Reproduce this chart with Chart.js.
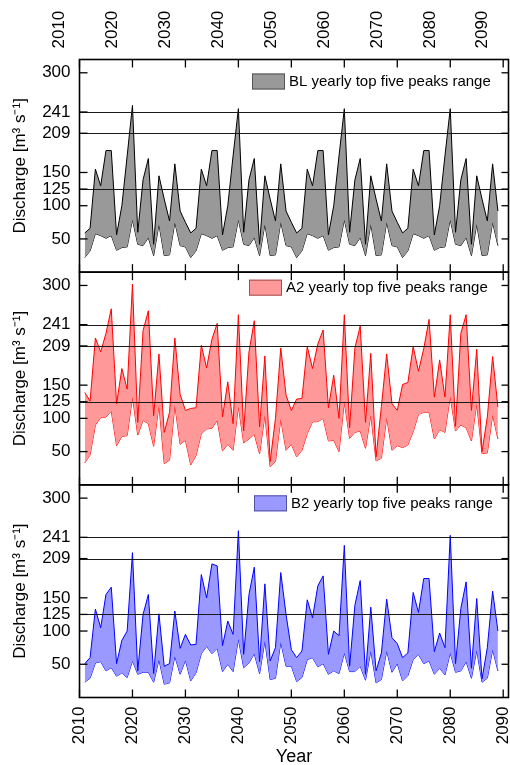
<!DOCTYPE html>
<html><head><meta charset="utf-8">
<script src="https://cdn.jsdelivr.net/npm/chart.js@4"></script>
<style>html,body{margin:0;padding:0;background:#fff;}#wrap{width:510px;height:765px;}</style>
</head><body><div id="wrap"><canvas id="c" width="510" height="765"></canvas></div>
<script>
const years = [2011,2012,2013,2014,2015,2016,2017,2018,2019,2020,2021,2022,2023,2024,2025,2026,2027,2028,2029,2030,
2031,2032,2033,2034,2035,2036,2037,2038,2039,2040,2041,2042,2043,2044,2045,2046,2047,2048,2049,2050,
2051,2052,2053,2054,2055,2056,2057,2058,2059,2060,2061,2062,2063,2064,2065,2066,2067,2068,2069,2070,
2071,2072,2073,2074,2075,2076,2077,2078,2079,2080,2081,2082,2083,2084,2085,2086,2087,2088,2089];
const xTickYears = [2010,2020,2030,2040,2050,2060,2070,2080,2090];
const yTickValues = [50,100,125,150,209,241,300];
const refLines = [125,209,241];

const blUpper = [59,66,155,130,183,183,56,100,175,251,60,139,171,42,145,110,77,163,92,75,
59,66,155,130,183,183,56,100,175,246,60,139,171,42,145,110,77,163,92,75,
59,66,155,130,183,183,56,100,175,246,60,139,171,42,145,110,77,163,92,75,
59,66,155,130,183,183,56,100,175,246,60,139,171,42,145,110,77,163,92];
const blLower = [22,32,58,55,51,55,33,37,38,79,42,40,52,25,72,25,26,75,40,38,
22,32,58,55,51,55,33,37,38,79,42,40,52,25,72,25,26,75,40,38,
22,32,58,55,51,55,33,37,38,79,42,40,52,25,72,25,26,75,40,38,
22,32,58,55,51,55,33,37,38,79,42,40,52,25,72,25,26,75,40];
const a2Upper = [139,126,221,200,228,265,122,175,144,302,
94,232,262,104,197,79,109,221,136,112,
115,116,210,176,219,243,102,155,92,256,
81,200,247,87,194,35,100,206,135,112,
129,130,208,175,212,233,116,165,100,256,
86,206,239,94,198,42,118,197,122,112,
151,154,208,171,205,249,132,188,132,256,
88,228,256,112,204,50,102,193,117];
const a2Lower = [33,45,90,101,102,111,59,73,74,132,
75,97,92,58,120,32,37,120,61,67,
30,44,77,84,85,97,51,61,52,118,
63,69,76,47,105,27,35,99,52,61,
42,52,77,95,95,100,66,67,50,125,
70,79,81,55,105,36,40,101,52,59,
56,60,80,106,109,109,69,83,79,133,
81,90,86,66,122,47,48,105,69];
const b2Upper = [51,60,133,105,155,166,51,86,100,218,
40,125,155,36,126,47,51,130,74,95,
79,80,185,150,201,198,78,115,95,251,
65,155,196,54,171,55,75,188,125,72,
60,70,147,120,168,183,65,100,93,229,
47,139,176,35,136,40,67,148,90,81,
60,67,158,128,179,179,69,97,75,244,
51,134,174,44,149,28,75,160,100];
const b2Lower = [23,29,52,54,40,45,32,37,30,55,
35,38,38,23,57,20,22,62,35,56,
25,37,66,77,66,74,39,50,39,88,
45,52,66,36,85,27,29,83,47,47,
24,30,57,60,46,51,35,40,36,67,
39,39,47,26,70,22,27,70,38,51,
25,33,57,65,51,55,35,44,34,67,
38,40,54,29,71,23,29,72,40];

const legendLabels = ['BL yearly top five peaks range','A2 yearly top five peaks range','B2 yearly top five peaks range'];
const yTitle = 'Discharge [m\u00B3 s\u207B\u00B9]';
const xTitle = 'Year';

const FONT = '"Liberation Sans", Arial, sans-serif';
const panels = [
  {axis:'yBL', line:'#000000', fill:'#999999', edge:'#555555', lx:252, ly:14},
  {axis:'yA2', line:'#ff0000', fill:'#ff9999', edge:'#a05050', lx:249, ly:7.5},
  {axis:'yB2', line:'#0000ff', fill:'#9999ff', edge:'#5050a0', lx:254, ly:10.5}
];
const series = [[blUpper,blLower],[a2Upper,a2Lower],[b2Upper,b2Lower]];

function pts(arr){ return years.map((y,i)=>({x:y, y:arr[i]})); }

const datasets = [];
panels.forEach((p,i)=>{
  datasets.push({label:legendLabels[i], data:pts(series[i][0]), xAxisID:'x', yAxisID:p.axis,
    borderColor:p.line, backgroundColor:p.fill, fill:'+1', borderWidth:1, pointRadius:0, tension:0});
  datasets.push({label:legendLabels[i]+' low', data:pts(series[i][1]), xAxisID:'x', yAxisID:p.axis,
    borderColor:p.line, backgroundColor:p.fill, fill:false, borderWidth:1, pointRadius:0, tension:0});
});

function yScale(){
  return {
    type:'linear', position:'left', stack:'panels', stackWeight:1, min:0, max:320,
    afterBuildTicks: s => { s.ticks = yTickValues.map(v=>({value:v})); },
    afterFit: s => { s.width = 79.5; s.paddingTop = 0; s.paddingBottom = 0; },
    ticks:{autoSkip:false, padding:9, color:'#000', font:{family:FONT, size:17}, callback:v=>String(v)},
    grid:{display:false, drawTicks:false},
    border:{display:false},
    title:{display:true, text:yTitle, color:'#000', font:{family:FONT, size:17}, padding:{top:10, bottom:0}}
  };
}
function xScale(pos){
  return {
    type:'linear', position:pos, min:2010, max:2091,
    afterBuildTicks: s => { s.ticks = xTickYears.map(v=>({value:v})); },
    afterFit: s => { s.height = pos==='top' ? 59.5 : 67.5; s.paddingLeft = 0; s.paddingRight = 0; },
    ticks:{autoSkip:false, minRotation:90, maxRotation:90, padding:pos==='top'?11:9, color:'#000',
      font:{family:FONT, size:17}, callback:v=>String(v)},
    grid:{display:false, drawTicks:false},
    border:{display:false},
    title:{display:pos==='bottom', text:xTitle, color:'#000', font:{family:FONT, size:18, lineHeight:1}, padding:{top:0,bottom:-1}}
  };
}

const deco = {
  id:'deco',
  afterDatasetsDraw(chart){
    const ctx = chart.ctx, ca = chart.chartArea, xs = chart.scales.x;
    const seg = (x1,y1,x2,y2)=>{ctx.beginPath();ctx.moveTo(x1,y1);ctx.lineTo(x2,y2);ctx.stroke();};
    panels.forEach((p,i)=>{
      const ys = chart.scales[p.axis];
      ctx.save();
      ctx.strokeStyle='#1a1a1a'; ctx.lineWidth=1.2;
      refLines.forEach(v=>{ const y=Math.round(ys.getPixelForValue(v))+0.5; seg(ca.left,y,ca.right,y); });
      ctx.strokeStyle='#000'; ctx.lineWidth=1.3;
      yTickValues.forEach(v=>{ const y=ys.getPixelForValue(v); seg(ca.left,y,ca.left+8,y); seg(ca.right-7,y,ca.right,y); });
      xTickYears.forEach(v=>{ const x=xs.getPixelForValue(v); seg(x,ys.top,x,ys.top+8); seg(x,ys.bottom-8,x,ys.bottom); });
      ctx.lineWidth=1.6;
      ctx.strokeRect(ca.left, ys.top, ca.right-ca.left, ys.bottom-ys.top);
      const bx=p.lx, by=ys.top+p.ly;
      ctx.fillStyle=p.fill; ctx.fillRect(bx,by,33,16);
      ctx.strokeStyle=p.edge; ctx.lineWidth=1; ctx.strokeRect(bx+0.5,by+0.5,32,15);
      ctx.fillStyle='#000'; ctx.font='15px '+FONT; ctx.textBaseline='middle'; ctx.textAlign='left';
      ctx.fillText(legendLabels[i], bx+37, by+8.5);
      ctx.restore();
    });
  }
};

new Chart(document.getElementById('c'), {
  type:'line',
  data:{datasets},
  options:{
    responsive:false, animation:false, devicePixelRatio:1,
    layout:{padding:{left:0,right:1.5,top:0,bottom:0}},
    plugins:{legend:{display:false}, tooltip:{enabled:false}, filler:{propagate:false}},
    scales:{
      x:xScale('bottom'),
      xTop:xScale('top'),
      yB2:yScale(),
      yA2:yScale(),
      yBL:yScale()
    }
  },
  plugins:[deco]
});
</script></body></html>
